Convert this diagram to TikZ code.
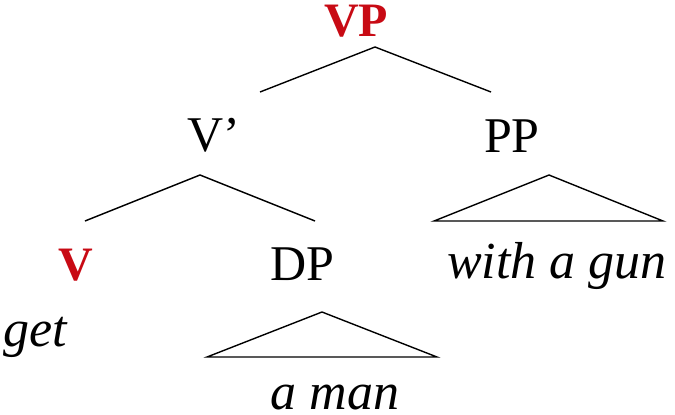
\documentclass[tikz,border=0pt]{standalone}
\usepackage{fontspec}
\setmainfont{Liberation Serif}
\definecolor{headred}{RGB}{200,10,20}
\begin{document}
\begin{tikzpicture}[x=1pt,y=-1pt,
  lab/.style={anchor=base,inner sep=0pt,font=\fontsize{50}{60}\selectfont},
  head/.style={anchor=base,inner sep=0pt,text height=33pt,text depth=0pt,text=headred,font=\fontsize{48}{58}\selectfont\bfseries},
  word/.style={anchor=base,inner sep=0pt,font=\fontsize{52}{62}\selectfont\itshape},
  branch/.style={line width=1.4pt,line join=miter}]
\useasboundingbox (0,0) rectangle (675,415);
\node[head] (vp) at (356,36) {VP};
\node[lab] (vbar) at (214,151) {V’};
\node[lab] (pp) at (512,152) {PP};
\node[head] (v) at (76,280) {V};
\node[lab] (dp) at (302,280) {DP};
\node[word] (gun) at (557,278) {with a gun};
\node[word] (get) at (35,346) {get};
\node[word,text depth=0pt] (man) at (335,409) {a man};
% VP branches
\coordinate (vpA) at (375,47);
\coordinate (vpL) at (260,92);
\coordinate (vpR) at (491,92);
\draw[branch] (vpL) -- (vpA) -- (vpR);
% V' branches
\coordinate (vbA) at (200,175);
\coordinate (vbL) at (85,221);
\coordinate (vbR) at (315,221);
\draw[branch] (vbL) -- (vbA) -- (vbR);
% PP triangle
\coordinate (ppA) at (549,175);
\coordinate (ppL) at (434,221);
\coordinate (ppR) at (663,221);
\draw[branch] (ppL) -- (ppA) -- (ppR) -- cycle;
% DP triangle
\coordinate (dpA) at (322,312);
\coordinate (dpL) at (207,357);
\coordinate (dpR) at (437,357);
\draw[branch] (dpL) -- (dpA) -- (dpR) -- cycle;
\end{tikzpicture}
\end{document}
